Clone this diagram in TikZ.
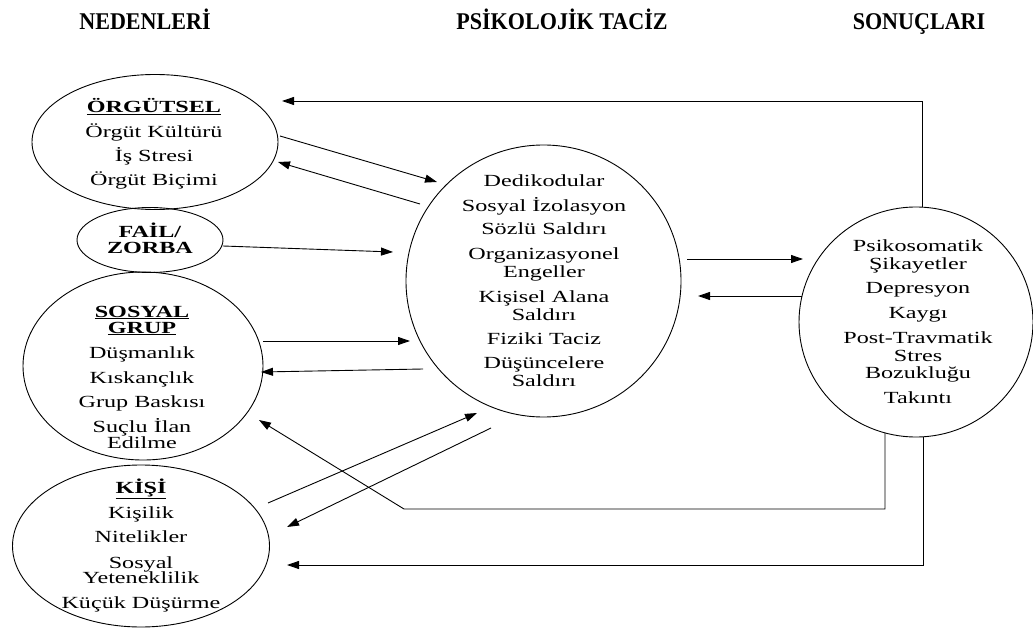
\documentclass[tikz,border=0pt]{standalone}
\usepackage{fontspec}
\usetikzlibrary{shapes.geometric,arrows.meta}
\newfontfamily\hdrfam{Liberation Serif}[FakeStretch=0.92]
\newfontfamily\bodyfam{Liberation Serif}[FakeStretch=1.42]
\newcommand\myhdr{\hdrfam\bfseries\fontsize{24}{26}\selectfont}
\newcommand\mybody{\bodyfam\fontsize{17}{18}\selectfont}
\tikzset{
  ell/.style={draw, line width=0.9pt, ellipse, inner sep=0pt},
  txt/.style={anchor=base, inner sep=0pt, font=\mybody},
  hd/.style={anchor=base, inner sep=0pt, font=\myhdr},
  arr/.style={line width=0.9pt, -{Triangle[length=12pt,width=8pt]}},
}
\begin{document}
\begin{tikzpicture}[x=1pt,y=-1pt]
\useasboundingbox (0,0) rectangle (1033,628);
% headers
\node[hd] (h1) at (145,30) {NEDENLERİ};
\node[hd] (h2) at (562,30) {PSİKOLOJİK TACİZ};
\node[hd] (h3) at (919,30) {SONUÇLARI};
% ellipses
\node[ell, minimum width=246pt, minimum height=135pt] (org) at (155,142) {};
\node[ell, minimum width=146pt, minimum height=65pt] (fail) at (150,240) {};
\node[ell, minimum width=240pt, minimum height=188pt] (sos) at (143,366) {};
\node[ell, minimum width=257pt, minimum height=162pt] (kisi) at (141,546) {};
\node[ell, minimum width=275pt, minimum height=272pt] (mid) at (543.5,281) {};
\node[ell, minimum width=234pt, minimum height=230pt] (res) at (916,322) {};
% texts
\foreach \t/\yy [count=\i] in {{\textbf{\underline{ÖRGÜTSEL}}}/113, Örgüt Kültürü/138, İş Stresi/162, Örgüt Biçimi/186}
  \node[txt] (orgt\i) at (154,\yy) {\t};
\foreach \t/\yy [count=\i] in {{\textbf{FAİL/}}/238, {\textbf{ZORBA}}/254}
  \node[txt] (failt\i) at (150,\yy) {\t};
\foreach \t/\yy [count=\i] in {{\textbf{\underline{SOSYAL}}}/317, {\textbf{\underline{GRUP}}}/333, Düşmanlık/358, Kıskançlık/383, Grup Baskısı/407, Suçlu İlan/432, Edilme/448}
  \node[txt] (sost\i) at (142,\yy) {\t};
\foreach \t/\yy [count=\i] in {{\textbf{\underline{KİŞİ}}}/493, Kişilik/518, Nitelikler/542, Sosyal/568, Yeteneklilik/583, Küçük Düşürme/608}
  \node[txt] (kisit\i) at (141,\yy) {\t};
\foreach \t/\yy [count=\i] in {Dedikodular/187, Sosyal İzolasyon/212, Sözlü Saldırı/235, Organizasyonel/260, Engeller/278, Kişisel Alana/302, Saldırı/320, Fiziki Taciz/344, Düşüncelere/368, Saldırı/386}
  \node[txt] (midt\i) at (544,\yy) {\t};
\foreach \t/\yy [count=\i] in {Psikosomatik/252, Şikayetler/270, Depresyon/294, Kaygı/318, Post-Travmatik/343, Stres/361, Bozukluğu/378, Takıntı/403}
  \node[txt] (rest\i) at (918,\yy) {\t};
% connector end points
\coordinate (a1s) at (922,207);  \coordinate (a1e) at (282,101);
\coordinate (a2s) at (280,136);  \coordinate (a2e) at (437,182);
\coordinate (a3s) at (420,204);  \coordinate (a3e) at (278,162);
\coordinate (a4s) at (223,246);  \coordinate (a4e) at (393,252);
\coordinate (a5s) at (263,341);  \coordinate (a5e) at (410,341);
\coordinate (a6s) at (423,369);  \coordinate (a6e) at (261,372);
\coordinate (a7s) at (268,503);  \coordinate (a7e) at (477,413);
\coordinate (a8s) at (491,428);  \coordinate (a8e) at (287,527);
\coordinate (a9s) at (885,433);  \coordinate (a9m) at (404,509); \coordinate (a9e) at (259,420);
\coordinate (a10s) at (923,437); \coordinate (a10e) at (287,565);
\coordinate (a11s) at (687,259); \coordinate (a11e) at (803,259);
\coordinate (a12s) at (802,296); \coordinate (a12e) at (698,296);
% connectors
\draw[arr] (a1s) |- (a1e);
\draw[arr] (a2s) -- (a2e);
\draw[arr] (a3s) -- (a3e);
\draw[arr] (a4s) -- (a4e);
\draw[arr] (a5s) -- (a5e);
\draw[arr] (a6s) -- (a6e);
\draw[arr] (a7s) -- (a7e);
\draw[arr] (a8s) -- (a8e);
\draw[arr] (a9s) -- (a9s |- a9m) -- (a9m) -- (a9e);
\draw[arr] (a10s) |- (a10e);
\draw[arr] (a11s) -- (a11e);
\draw[arr] (a12s) -- (a12e);
\end{tikzpicture}
\end{document}
